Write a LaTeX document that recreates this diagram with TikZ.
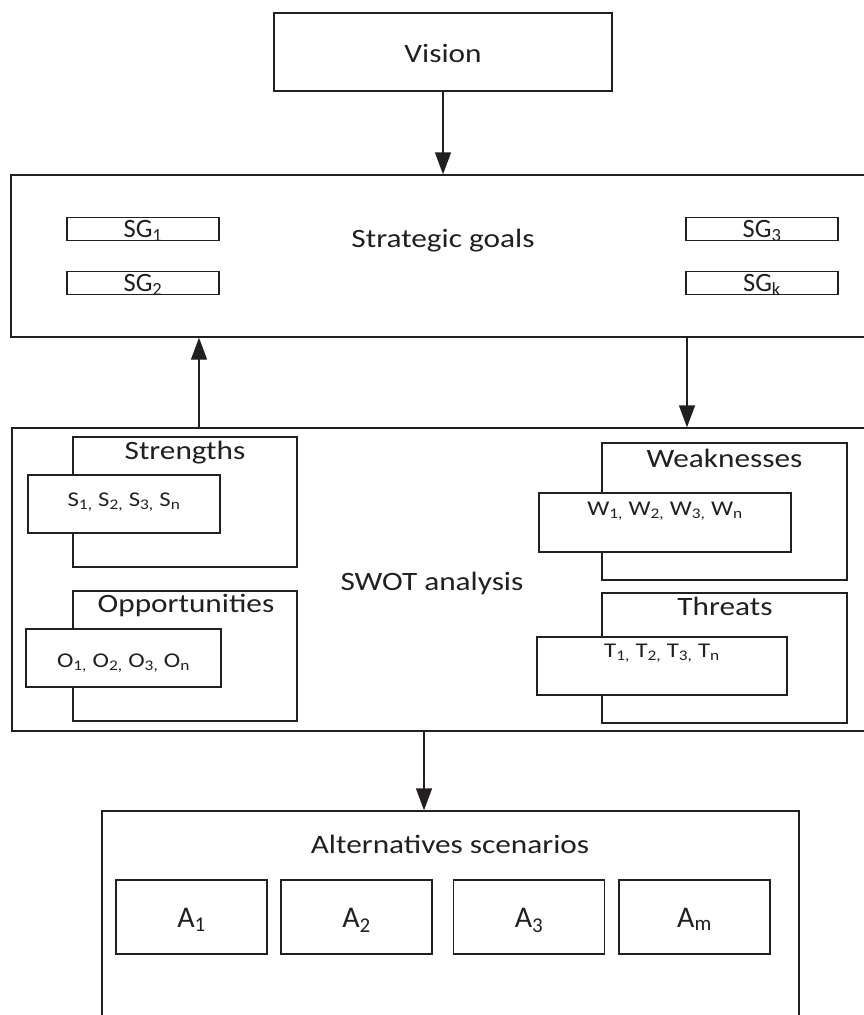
\documentclass[tikz,border=0pt]{standalone}
\usepackage{fontspec}
\setmainfont{Carlito}
\newfontfamily\bigfont{Carlito}[FakeStretch=1.18]
\usepackage{xcolor}
\usepackage{tikz}
\usetikzlibrary{arrows.meta, positioning}
\definecolor{ink}{HTML}{231F20}

\begin{document}
\begin{tikzpicture}[x=1pt, y=-1pt,
    box/.style={draw=ink, line width=1.4pt, fill=white, inner sep=0pt},
    arr/.style={draw=ink, line width=1.4pt, -{Triangle[length=22pt, width=16pt]}},
    big/.style={font=\bigfont\fontsize{26.5}{30}\selectfont, text=ink, inner sep=0pt},
    sgtext/.style={font=\fontsize{26.5}{30}\selectfont, text=ink},
    atext/.style={font=\fontsize{30}{34}\selectfont, text=ink},
    listtext/.style={font=\bigfont\fontsize{21}{24}\selectfont, text=ink}]
    \useasboundingbox (0,0) rectangle (864,1015);
    \clip (0,0) rectangle (864,1015);

    % vision
    \node[box, big, minimum width=338pt, minimum height=78pt, text height=49pt, text depth=29pt] (vision) at (443,52) {Vision};

    % strategic goals
    \node[box, minimum width=900pt, minimum height=162pt] (sg) at (461,256) {};
    \node[big, anchor=base] (sglbl) at (443,247) {Strategic goals};
    \tikzset{sgbox/.style={box, sgtext, minimum width=152pt, minimum height=23pt, text height=20pt, text depth=3pt}}
    \node[sgbox] (sg1) at (143,229) {SG\textsubscript{1}};
    \node[sgbox] (sg2) at (143,283) {SG\textsubscript{2}};
    \node[sgbox] (sg3) at (762,229) {SG\textsubscript{3}};
    \node[sgbox] (sgk) at (762,283) {SG\textsubscript{k}};

    % swot
    \node[box, minimum width=900pt, minimum height=303pt] (swot) at (462,579.5) {};
    \node[big, anchor=base] (swotlbl) at (432,590) {SWOT analysis};

    \node[box, minimum width=224pt, minimum height=130pt] (str) at (185,502) {};
    \node[big, anchor=base] (strlbl) at (185,459) {Strengths};
    \node[box, listtext, minimum width=192pt, minimum height=58pt, text height=31pt, text depth=27pt] (slist) at (124,504)
        {S\textsubscript{1,} S\textsubscript{2,} S\textsubscript{3,} S\textsubscript{n}};

    \node[box, minimum width=224pt, minimum height=130pt] (opp) at (185,656) {};
    \node[big, anchor=base] (opplbl) at (186,612) {Opportunities};
    \node[box, listtext, minimum width=195pt, minimum height=58pt, text height=38pt, text depth=20pt] (olist) at (123.5,658)
        {O\textsubscript{1,} O\textsubscript{2,} O\textsubscript{3,} O\textsubscript{n}};

    \node[box, minimum width=245pt, minimum height=137pt] (weak) at (724.5,511.5) {};
    \node[big, anchor=base] (weaklbl) at (724.5,467) {Weaknesses};
    \node[box, listtext, minimum width=252pt, minimum height=59pt, text height=22pt, text depth=37pt] (wlist) at (665,522.5)
        {W\textsubscript{1,} W\textsubscript{2,} W\textsubscript{3,} W\textsubscript{n}};

    \node[box, minimum width=245pt, minimum height=130pt] (thr) at (724.5,658) {};
    \node[big, anchor=base] (thrlbl) at (725,615) {Threats};
    \node[box, listtext, minimum width=250pt, minimum height=58pt, text height=20pt, text depth=38pt] (tlist) at (662,666)
        {T\textsubscript{1,} T\textsubscript{2,} T\textsubscript{3,} T\textsubscript{n}};

    % alternatives
    \node[box, minimum width=697pt, minimum height=300pt] (alt) at (450.5,961) {};
    \node[big, anchor=base] (altlbl) at (450,853) {Alternatives scenarios};
    \foreach \i/\x/\s in {1/191.5/1, 2/356.5/2, 3/529/3, 4/694.5/m}
        \node[box, atext, minimum width=151pt, minimum height=74pt, text height=47pt, text depth=27pt] (a\i) at (\x,917) {A\textsubscript{\s}};

    % arrows
    \coordinate (upx) at (199,0);
    \coordinate (dnx) at (687,0);
    \coordinate (altx) at (424,0);
    \draw[arr] (vision) -- (vision |- sg.north);
    \draw[arr] (swot.north -| upx) -- (sg.south -| upx);
    \draw[arr] (sg.south -| dnx) -- (swot.north -| dnx);
    \draw[arr] (swot.south -| altx) -- (alt.north -| altx);
\end{tikzpicture}
\end{document}
